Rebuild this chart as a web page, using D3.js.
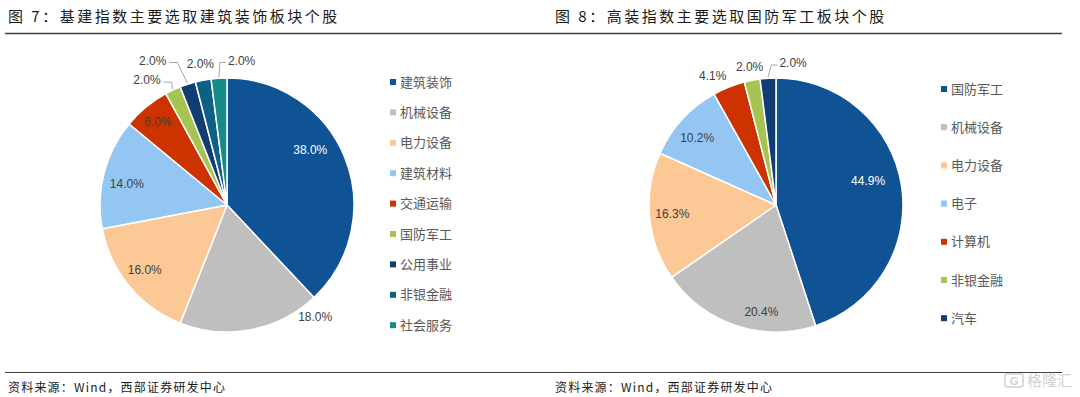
<!DOCTYPE html>
<html><head><meta charset="utf-8">
<script src="https://cdn.jsdelivr.net/npm/d3@7/dist/d3.min.js"></script>
<style>
html,body{margin:0;padding:0;background:#fff;}
svg{display:block;font-family:"Noto Sans CJK SC","Noto Sans",sans-serif;}
</style></head>
<body>
<svg id="c" width="1080" height="397"></svg>
<script>
// ---------- data ----------
const titleLeft = "图 7：基建指数主要选取建筑装饰板块个股";
const titleRight = "图 8：高装指数主要选取国防军工板块个股";
const sourceText = "资料来源：Wind，西部证券研发中心";

const leftCategories = ["建筑装饰","机械设备","电力设备","建筑材料","交通运输","国防军工","公用事业","非银金融","社会服务"];
const leftValues = [38.0, 18.0, 16.0, 14.0, 6.0, 2.0, 2.0, 2.0, 2.0];
const leftColors = ["#0f5395","#bfbfbf","#fcc896","#93c6f3","#cc3300","#a6c451","#103e72","#0c5f85","#168a86"];

const rightCategories = ["国防军工","机械设备","电力设备","电子","计算机","非银金融","汽车"];
const rightValues = [44.9, 20.4, 16.3, 10.2, 4.1, 2.0, 2.0];
const rightColors = ["#0f5395","#bfbfbf","#fcc896","#93c6f3","#cc3300","#a6c451","#103e72"];

// ---------- label layout (radius factor, nudges, colour, leader) ----------
const leftLabelLayout = [
  {rf:0.79, dx:-10, dy:-18, fill:"#fff"},
  {rf:1.10, dx:62, dy:-26, fill:"#404040"},
  {rf:0.82, dx:-2, dy:-2, fill:"#404040"},
  {rf:0.79, dx:-3, dy:4, fill:"#404040"},
  {rf:0.83, dx:-2, dy:-2, fill:"#404040"},
  {rf:1.165, dx:-17, dy:9, fill:"#404040", leader:"left"},
  {rf:1.18, dx:-28, dy:-2, fill:"#404040", leader:"left"},
  {rf:1.12, dx:0, dy:-1.5, fill:"#404040"},
  {rf:1.18, dx:24, dy:5, fill:"#404040", leader:"right"}
];
const rightLabelLayout = [
  {rf:0.75, dx:-2, dy:-9, fill:"#fff"},
  {rf:0.83, dx:19, dy:7, fill:"#404040"},
  {rf:0.82, dx:0, dy:-1, fill:"#404040"},
  {rf:0.82, dx:-2, dy:3, fill:"#404040"},
  {rf:1.13, dx:-10, dy:4, fill:"#404040"},
  {rf:1.11, dx:0, dy:0, fill:"#404040"},
  {rf:1.12, dx:26, dy:0, fill:"#404040", leader:"right"}
];

const svg = d3.select("#c");

// ---------- frame: titles, rules, sources ----------
function frame(x0, x1, tx, title) {
  svg.append("text").attr("x", tx).attr("y", 22)
    .attr("font-size", 15).attr("letter-spacing", 2.5).attr("fill", "#1a1a1a").text(title);
  svg.append("line").attr("x1", x0).attr("x2", x1).attr("y1", 33.5).attr("y2", 33.5)
    .attr("stroke", "#404040").attr("stroke-width", 1.5);
  svg.append("line").attr("x1", x0).attr("x2", x1).attr("y1", 372.5).attr("y2", 372.5)
    .attr("stroke", "#404040").attr("stroke-width", 1.2);
  svg.append("text").attr("x", tx).attr("y", 392)
    .attr("font-size", 12).attr("letter-spacing", 1.2).attr("fill", "#1a1a1a").text(sourceText);
}
frame(5, 540, 8, titleLeft);
frame(540, 1062, 555, titleRight);

// ---------- pie ----------
function drawPie(cx, cy, r, cats, vals, cols, layout, legendX, legendY0, legendStep) {
  const color = d3.scaleOrdinal().domain(cats).range(cols);
  const data = cats.map((c, i) => ({cat: c, value: vals[i], i}));
  const pie = d3.pie().sort(null).value(d => d.value);
  const arcs = pie(data);
  const arc = d3.arc().innerRadius(0).outerRadius(r);
  const g = svg.append("g").attr("transform", `translate(${cx},${cy})`);
  g.selectAll("path").data(arcs).join("path")
    .attr("d", arc).attr("fill", d => color(d.data.cat))
    .attr("stroke", "#fff").attr("stroke-width", 1.5).attr("stroke-linejoin", "round");

  const fmt = d3.format(".1f");
  arcs.forEach((a, i) => {
    const L = layout[i];
    const mid = (a.startAngle + a.endAngle) / 2;
    const rr = r * L.rf;
    const x = Math.sin(mid) * rr + L.dx;
    const y = -Math.cos(mid) * rr + L.dy;
    const t = g.append("text").attr("x", x).attr("y", y).attr("dy", "0.36em")
      .attr("text-anchor", "middle")
      .attr("font-family", "Liberation Sans, Arial, sans-serif")
      .attr("font-size", 12).attr("fill", L.fill)
      .text(fmt(a.data.value) + "%");
    if (L.leader) {
      const w = t.node().getComputedTextLength();
      const ly = y + 2;
      const px = Math.sin(mid) * (r + 1), py = -Math.cos(mid) * (r + 1);
      let pts;
      if (L.leader === "left") {
        const ex = x + w / 2 + 3;
        pts = [[px, py], [ex + 8, ly], [ex, ly]];
      } else {
        const ex = x - w / 2 - 2;
        pts = [[px, py], [ex - 6, ly], [ex, ly]];
      }
      g.append("path").attr("d", d3.line()(pts))
        .attr("fill", "none").attr("stroke", "#a6a6a6").attr("stroke-width", 1);
    }
  });

  // legend
  const ly = d3.scalePoint().domain(cats).range([legendY0, legendY0 + legendStep * (cats.length - 1)]);
  const lg = svg.append("g");
  cats.forEach(c => {
    lg.append("rect").attr("x", legendX).attr("y", ly(c) - 3).attr("width", 6).attr("height", 6)
      .attr("fill", color(c));
    lg.append("text").attr("x", legendX + 10).attr("y", ly(c)).attr("dy", "0.36em")
      .attr("font-size", 13).attr("fill", "#595959").text(c);
  });
}

drawPie(227, 205, 127, leftCategories, leftValues, leftColors, leftLabelLayout, 390, 82, 30.4);
drawPie(776, 205, 127, rightCategories, rightValues, rightColors, rightLabelLayout, 941, 89, 38.2);

// ---------- watermark ----------
const wm = svg.append("g").attr("opacity", 0.45);
wm.append("rect").attr("x", 1005).attr("y", 374).attr("width", 18).attr("height", 13).attr("rx", 2)
  .attr("fill", "none").attr("stroke", "#999").attr("stroke-width", 1.5);
wm.append("text").attr("x", 1014).attr("y", 385).attr("text-anchor", "middle")
  .attr("font-size", 11).attr("font-weight", "bold").attr("fill", "#999")
  .attr("font-family", "Liberation Sans, Arial, sans-serif").text("G");
wm.append("text").attr("x", 1027).attr("y", 386).attr("font-size", 15).attr("fill", "#999").text("格隆汇");
</script>
</body></html>
